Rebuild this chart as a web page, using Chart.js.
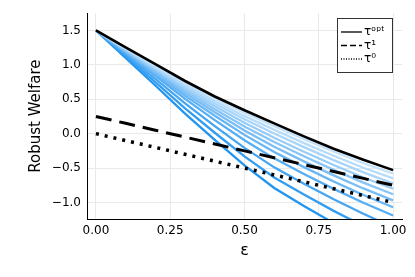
<!DOCTYPE html>
<html>
<head>
<meta charset="utf-8">
<script src="https://cdn.jsdelivr.net/npm/chart.js@4.4.1/dist/chart.umd.min.js"></script>
<style>
  html, body { margin: 0; padding: 0; background: #fff; }
  #wrap { width: 415px; height: 277px; }
</style>
</head>
<body>
<div id="wrap"><canvas id="myChart" width="415" height="277"></canvas></div>
<script>
// epsilon grid
const eps = [0, 0.1, 0.2, 0.3, 0.4, 0.5, 0.6, 0.7, 0.8, 0.9, 1.0];

// black curves
const tauOpt = [1.5, 1.255, 1.01, 0.765, 0.54, 0.34, 0.15, -0.04, -0.22, -0.38, -0.53];
const tau1 = [0.25, 0.15, 0.05, -0.05, -0.15, -0.25, -0.35, -0.45, -0.55, -0.65, -0.75];
const tau0 = [0, -0.1, -0.2, -0.3, -0.4, -0.5, -0.6, -0.7, -0.8, -0.9, -1.0];

// blue fan, top (lightest) to bottom (darkest)
const blue0 = [1.5, 1.245, 0.99, 0.74, 0.51, 0.30, 0.11, -0.08, -0.26, -0.43, -0.58];
const blue1 = [1.5, 1.236, 0.973, 0.713, 0.474, 0.254, 0.056, -0.138, -0.322, -0.496, -0.65];
const blue2 = [1.5, 1.228, 0.955, 0.686, 0.438, 0.209, 0.002, -0.196, -0.385, -0.562, -0.72];
const blue3 = [1.5, 1.218, 0.935, 0.655, 0.397, 0.157, -0.059, -0.262, -0.456, -0.637, -0.80];
const blue4 = [1.5, 1.208, 0.916, 0.625, 0.356, 0.105, -0.12, -0.328, -0.526, -0.712, -0.88];
const blue5 = [1.5, 1.197, 0.893, 0.59, 0.31, 0.047, -0.19, -0.403, -0.606, -0.796, -0.97];
const blue6 = [1.5, 1.184, 0.868, 0.551, 0.259, -0.018, -0.267, -0.486, -0.696, -0.891, -1.07];
const blue7 = [1.5, 1.169, 0.839, 0.506, 0.197, -0.096, -0.359, -0.585, -0.802, -1.003, -1.19];
const blue8 = [1.5, 1.148, 0.797, 0.44, 0.11, -0.207, -0.49, -0.727, -0.954, -1.164, -1.36];
const blue9 = [1.5, 1.125, 0.75, 0.367, 0.013, -0.33, -0.636, -0.884, -1.122, -1.342, -1.55];
const blue10 = [1.5, 1.10, 0.70, 0.29, -0.09, -0.46, -0.79, -1.05, -1.30, -1.53, -1.75];

const blueLines = [blue0, blue1, blue2, blue3, blue4, blue5, blue6, blue7, blue8, blue9, blue10];
const blueColors = ['#c4e3fb', '#b6dcfa', '#a8d5f9', '#98cdf8', '#88c5f7', '#78bdf6',
                    '#66b5f5', '#55adf4', '#44a5f3', '#339df2', '#2295f0'];

const xTicks = [0, 0.25, 0.5, 0.75, 1.0];
const yTicks = [-1.0, -0.5, 0.0, 0.5, 1.0, 1.5];

const legendLabels = ['τᵒᵖᵗ', 'τ¹', 'τ⁰'];

function pts(ys) {
  return eps.map((e, i) => ({ x: e, y: ys[i] }));
}
function minus(s) {
  return s.replace('-', '\u2212');
}

const datasets = [
  { data: pts(tauOpt), borderColor: '#000', borderWidth: 2.6 },
  { data: pts(tau1), borderColor: '#000', borderWidth: 3, borderDash: [16, 8] },
  { data: pts(tau0), borderColor: '#000', borderWidth: 3.5, borderDash: [3, 6] }
];
blueLines.forEach((ys, i) => {
  datasets.push({ data: pts(ys), borderColor: blueColors[i], borderWidth: 2.3 });
});

// legend box drawn inside the plot area, like the Plots.jl one
const insideLegend = {
  id: 'insideLegend',
  afterDraw(chart) {
    const ctx = chart.ctx;
    const x0 = 337, y0 = 18, w = 55, h = 54;
    ctx.save();
    ctx.fillStyle = '#fff';
    ctx.fillRect(x0, y0, w, h);
    ctx.strokeStyle = '#333';
    ctx.lineWidth = 1;
    ctx.strokeRect(x0 + 0.5, y0 + 0.5, w, h);
    const dashes = [[], [6, 3], [1, 1.5]];
    const rows = [32, 45.5, 59];
    ctx.font = '12px "DejaVu Sans"';
    ctx.textBaseline = 'middle';
    rows.forEach((ry, i) => {
      ctx.beginPath();
      ctx.setLineDash(dashes[i]);
      ctx.strokeStyle = '#000';
      ctx.lineWidth = 1.3;
      ctx.moveTo(341, ry);
      ctx.lineTo(362, ry);
      ctx.stroke();
      ctx.setLineDash([]);
      ctx.fillStyle = '#000';
      ctx.fillText(legendLabels[i], 364, ry);
    });
    ctx.restore();
  }
};

const ctx = document.getElementById('myChart').getContext('2d');
new Chart(ctx, {
  type: 'line',
  data: { datasets: datasets },
  options: {
    responsive: false,
    animation: false,
    devicePixelRatio: 1,
    layout: { padding: { left: 0, right: 13, top: 12, bottom: 0 } },
    elements: {
      point: { radius: 0 },
      line: { tension: 0, borderCapStyle: 'butt', fill: false }
    },
    plugins: { legend: { display: false }, tooltip: { enabled: false } },
    scales: {
      x: {
        type: 'linear',
        min: -0.03,
        max: 1.03,
        afterBuildTicks: (s) => { s.ticks = xTicks.map(v => ({ value: v })); },
        afterFit: (s) => { s.height = 58; },
        ticks: {
          color: '#000',
          padding: 5,
          font: { family: 'DejaVu Sans', size: 12 },
          maxRotation: 0,
          callback: (v) => minus(Number(v).toFixed(2))
        },
        grid: { color: '#e9e9e9', drawTicks: false },
        border: { color: '#000', width: 1 },
        title: {
          display: true,
          text: 'ε',
          color: '#000',
          font: { family: 'DejaVu Sans', size: 16 },
          padding: { top: 0, bottom: 17 }
        }
      },
      y: {
        type: 'linear',
        min: -1.24,
        max: 1.75,
        afterBuildTicks: (s) => { s.ticks = yTicks.map(v => ({ value: v })); },
        afterFit: (s) => { s.width = 87; },
        ticks: {
          color: '#000',
          padding: 6,
          font: { family: 'DejaVu Sans', size: 12 },
          callback: (v) => minus(Number(v).toFixed(1))
        },
        grid: { color: '#e9e9e9', drawTicks: false },
        border: { color: '#000', width: 1 },
        title: {
          display: true,
          text: 'Robust Welfare',
          color: '#000',
          font: { family: 'DejaVu Sans', size: 15 },
          padding: { top: 27, bottom: 0 }
        }
      }
    }
  },
  plugins: [insideLegend]
});
</script>
</body>
</html>
